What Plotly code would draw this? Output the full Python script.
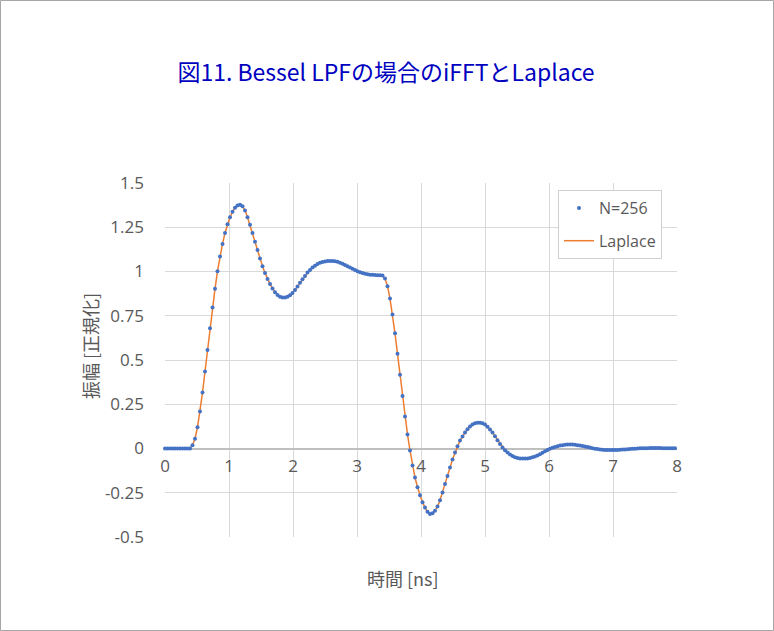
import plotly.graph_objects as go

# ---- data ----
dt_ns = 10 / 256  # sample spacing of N=256 over 10 ns
ifft_amp = [
    0.000, 0.000, 0.000, 0.000, 0.000, 0.000, 0.000, 0.000, 0.000, 0.000,
    0.000, 0.019, 0.055, 0.120, 0.209, 0.316, 0.435, 0.557, 0.680, 0.797,
    0.902, 1.002, 1.085, 1.156, 1.218, 1.267, 1.307, 1.337, 1.360, 1.373,
    1.377, 1.369, 1.345, 1.307, 1.264, 1.218, 1.168, 1.121, 1.073, 1.030,
    0.992, 0.958, 0.930, 0.904, 0.883, 0.867, 0.857, 0.853, 0.853, 0.857,
    0.866, 0.879, 0.896, 0.915, 0.936, 0.956, 0.975, 0.994, 1.009, 1.022,
    1.033, 1.042, 1.049, 1.054, 1.057, 1.059, 1.060, 1.060, 1.058, 1.055,
    1.050, 1.044, 1.037, 1.030, 1.022, 1.015, 1.008, 1.001, 0.996, 0.991,
    0.987, 0.984, 0.982, 0.981, 0.980, 0.979, 0.979, 0.977, 0.960, 0.917,
    0.847, 0.757, 0.651, 0.535, 0.416, 0.296, 0.181, 0.079, -0.011, -0.096,
    -0.164, -0.219, -0.264, -0.304, -0.334, -0.358, -0.370, -0.366, -0.351, -0.328,
    -0.292, -0.249, -0.200, -0.155, -0.108, -0.062, -0.023, 0.013, 0.045, 0.068,
    0.090, 0.109, 0.124, 0.135, 0.142, 0.145, 0.145, 0.142, 0.135, 0.123,
    0.108, 0.090, 0.069, 0.047, 0.025, 0.006, -0.010, -0.023, -0.034, -0.043,
    -0.049, -0.053, -0.056, -0.057, -0.057, -0.056, -0.054, -0.050, -0.045, -0.039,
    -0.032, -0.024, -0.016, -0.008, -0.002, 0.004, 0.009, 0.013, 0.017, 0.019,
    0.021, 0.022, 0.022, 0.022, 0.021, 0.019, 0.017, 0.014, 0.011, 0.008,
    0.005, 0.002, -0.001, -0.003, -0.005, -0.007, -0.008, -0.009, -0.009, -0.009,
    -0.009, -0.008, -0.007, -0.006, -0.005, -0.004, -0.003, -0.002, -0.001, 0.000,
    0.001, 0.001, 0.002, 0.002, 0.003, 0.003, 0.003, 0.003, 0.003, 0.002,
    0.002, 0.002, 0.001, 0.001, 0.001,
]
laplace_amp = list(ifft_amp)
time_ns = [round(i * dt_ns, 6) for i in range(len(ifft_amp))]

x_tick_vals = [0, 1, 2, 3, 4, 5, 6, 7, 8]
x_tick_labels = ["0", "1", "2", "3", "4", "5", "6", "7", "8"]
y_tick_vals = [-0.5, -0.25, 0, 0.25, 0.5, 0.75, 1, 1.25, 1.5]
y_tick_labels = ["-0.5", "-0.25", "0", "0.25", "0.5", "0.75", "1", "1.25", "1.5"]

title_text = "図11. Bessel LPFの場合のiFFTとLaplace"
x_title = "時間 [ns]"
y_title = "振幅 [正規化]"

# ---- layout geometry (pixels) ----
W, H = 774, 631
L, R, T, B = 165, 677, 183, 537
pw, ph = R - L, B - T

def px(xpix):
    return (xpix - L) / pw

def py(ypix):
    return (B - ypix) / ph

font_lat = "'Open Sans', 'Noto Sans CJK JP', sans-serif"
font_cjk = "'Noto Sans CJK JP', 'Noto Sans', sans-serif"
grey = "#595959"

fig = go.Figure()
fig.add_trace(go.Scatter(
    x=time_ns, y=laplace_amp, mode="lines", name="Laplace",
    line=dict(color="#ED7D31", width=1.5),
    legendrank=2, legendgroup="b", cliponaxis=False,
))
fig.add_trace(go.Scatter(
    x=time_ns, y=ifft_amp, mode="markers", name="N=256",
    marker=dict(color="#4472C4", size=4, line=dict(width=0)),
    legendrank=1, legendgroup="a", cliponaxis=False,
))

fig.update_layout(
    width=W, height=H,
    margin=dict(l=L, r=W - R, t=T, b=H - B, pad=0),
    paper_bgcolor="white", plot_bgcolor="white",
    title=dict(text=title_text, x=386 / W, xanchor="center", xref="container",
               y=1 - 73 / H, yanchor="middle",
               font=dict(family=font_cjk, size=23, color="#0000BF")),
    showlegend=True,
    legend=dict(x=px(558), y=py(190), xanchor="left", yanchor="top",
                bgcolor="white", bordercolor="#d0d0d0", borderwidth=1,
                font=dict(family=font_lat, size=16, color=grey),
                traceorder="grouped", tracegroupgap=9, itemwidth=30),
    xaxis=dict(range=[0, 8], tickvals=x_tick_vals, ticktext=x_tick_labels,
               showgrid=True, gridcolor="#d9d9d9", gridwidth=1, zeroline=False,
               showline=False, ticks="", anchor="free", position=0.25,
               ticklabelstandoff=5,
               tickfont=dict(family=font_lat, size=17, color=grey)),
    yaxis=dict(range=[-0.5, 1.5], tickvals=y_tick_vals, ticktext=y_tick_labels,
               showgrid=True, gridcolor="#d9d9d9", gridwidth=1,
               zeroline=True, zerolinecolor="#bfbfbf", zerolinewidth=1.5,
               showline=False, ticks="", ticklabelstandoff=20,
               tickfont=dict(family=font_lat, size=17, color=grey)),
    annotations=[
        dict(text=x_title, x=px(403), y=py(578), xref="paper", yref="paper",
             showarrow=False, xanchor="center", yanchor="middle",
             font=dict(family=font_cjk, size=18, color=grey)),
        dict(text=y_title, x=px(90), y=py(346), xref="paper", yref="paper",
             showarrow=False, xanchor="center", yanchor="middle", textangle=-90,
             font=dict(family=font_cjk, size=18, color=grey)),
    ],
    shapes=[
        dict(type="rect", xref="paper", yref="paper",
             x0=px(0.5), x1=px(W - 0.5), y0=py(H - 0.5), y1=py(0.5),
             line=dict(color="#a6a6a6", width=1), fillcolor="rgba(0,0,0,0)",
             layer="above"),
    ],
)

fig.write_html(
    "out.html",
    config={"displayModeBar": False},
    post_script="document.body.style.margin='0';document.body.style.padding='0';",
)
